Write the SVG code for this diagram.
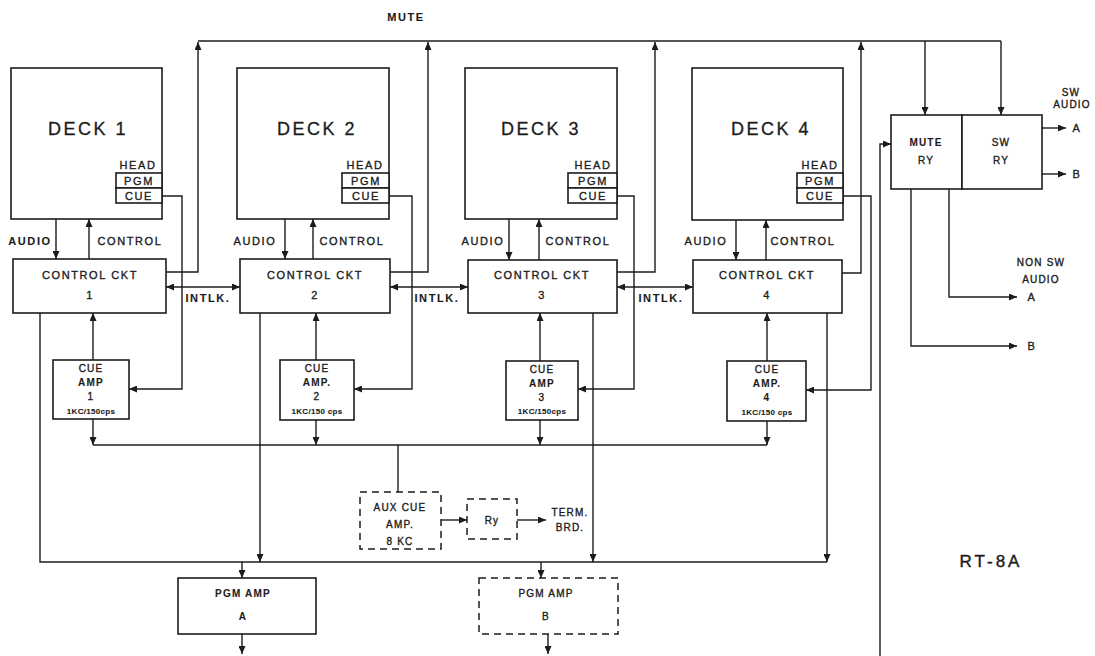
<svg xmlns="http://www.w3.org/2000/svg" width="1095" height="656" viewBox="0 0 1095 656">
<defs>
<style>
.ln{fill:none;stroke:#1c1c1c;stroke-width:1.4}
.bx{fill:#fff;stroke:#1c1c1c;stroke-width:1.6}
.dbx{fill:#fff;stroke:#1c1c1c;stroke-width:1.5;stroke-dasharray:7 5}
.t{font-family:"Liberation Sans",Arial,sans-serif;fill:#1c1c1c;stroke:#1c1c1c;stroke-width:0.35;text-anchor:middle}
.big{font-size:18px;letter-spacing:2.5px;stroke-width:0.3}
.md{font-size:11px;letter-spacing:1.6px}
.sm{font-size:10px;letter-spacing:1.2px}
.xs{font-size:8px;font-weight:bold;letter-spacing:0.3px;stroke-width:0.1}
.b{font-weight:bold;stroke-width:0.1}
</style>
<marker id="ar" viewBox="0 0 8 7" refX="8" refY="3.5" markerWidth="8" markerHeight="7" markerUnits="userSpaceOnUse" orient="auto-start-reverse">
<path d="M0,0 L8,3.5 L0,7 z" fill="#1c1c1c"/>
</marker>
</defs>
<rect width="1095" height="656" fill="#fff"/>

<g id="connectors">
<path class="ln" d="M198,41 H1001"/>
<path class="ln" d="M925,41 V115" marker-end="url(#ar)"/>
<path class="ln" d="M1001,41 V115" marker-end="url(#ar)"/>
<path class="ln" d="M166,272 H198 V42" marker-end="url(#ar)"/>
<path class="ln" d="M390,272 H428 V42" marker-end="url(#ar)"/>
<path class="ln" d="M617,272 H655 V42" marker-end="url(#ar)"/>
<path class="ln" d="M842,273 H861 V42" marker-end="url(#ar)"/>
<path class="ln" d="M116,181 H56 V259" marker-end="url(#ar)"/>
<path class="ln" d="M342,181 H285 V259" marker-end="url(#ar)"/>
<path class="ln" d="M568,181 H509 V260" marker-end="url(#ar)"/>
<path class="ln" d="M797,181 H736 V260" marker-end="url(#ar)"/>
<path class="ln" d="M89,259 V219" marker-end="url(#ar)"/>
<path class="ln" d="M313,259 V219" marker-end="url(#ar)"/>
<path class="ln" d="M539,260 V219" marker-end="url(#ar)"/>
<path class="ln" d="M766,260 V220" marker-end="url(#ar)"/>
<path class="ln" d="M166,287 H240" marker-start="url(#ar)" marker-end="url(#ar)"/>
<path class="ln" d="M390,287 H468" marker-start="url(#ar)" marker-end="url(#ar)"/>
<path class="ln" d="M617,287 H693" marker-start="url(#ar)" marker-end="url(#ar)"/>
<path class="ln" d="M162,196 H182 V389 H129" marker-end="url(#ar)"/>
<path class="ln" d="M389,196 H412 V389 H354" marker-end="url(#ar)"/>
<path class="ln" d="M617,196 H634 V389 H578" marker-end="url(#ar)"/>
<path class="ln" d="M843,196 H871 V390 H806" marker-end="url(#ar)"/>
<path class="ln" d="M93,360 V313" marker-end="url(#ar)"/>
<path class="ln" d="M316,360 V313" marker-end="url(#ar)"/>
<path class="ln" d="M540,361 V313" marker-end="url(#ar)"/>
<path class="ln" d="M767,361 V313" marker-end="url(#ar)"/>
<path class="ln" d="M93,419 V445" marker-end="url(#ar)"/>
<path class="ln" d="M316,420 V445" marker-end="url(#ar)"/>
<path class="ln" d="M540,420 V445" marker-end="url(#ar)"/>
<path class="ln" d="M767,421 V445" marker-end="url(#ar)"/>
<path class="ln" d="M93,445 H767"/>
<path class="ln" d="M398,445 V492"/>
<path class="ln" d="M441,520 H467" marker-end="url(#ar)"/>
<path class="ln" d="M517,520 H546" marker-end="url(#ar)"/>
<path class="ln" d="M40,313 V562 H827"/>
<path class="ln" d="M260,313 V562" marker-end="url(#ar)"/>
<path class="ln" d="M593,313 V562" marker-end="url(#ar)"/>
<path class="ln" d="M827,313 V562" marker-end="url(#ar)"/>
<path class="ln" d="M242,562 V578" marker-end="url(#ar)"/>
<path class="ln" d="M242,634 V654" marker-end="url(#ar)"/>
<path class="ln" d="M541,562 V578" marker-end="url(#ar)"/>
<path class="ln" d="M548,634 V654" marker-end="url(#ar)"/>
<path class="ln" d="M880,656 V144 H891" marker-end="url(#ar)"/>
<path class="ln" d="M1042,128 H1066" marker-end="url(#ar)"/>
<path class="ln" d="M1042,174 H1066" marker-end="url(#ar)"/>
<path class="ln" d="M949,189 V297 H1017" marker-end="url(#ar)"/>
<path class="ln" d="M911,189 V346 H1017" marker-end="url(#ar)"/>
</g>

<g id="deck1">
<rect class="bx" x="11" y="68" width="151" height="151"/>
<text class="t big" x="88" y="135">DECK 1</text>
<text class="t md" x="138" y="169">HEAD</text>
<rect class="bx" x="116" y="173" width="46" height="15"/>
<rect class="bx" x="116" y="188" width="46" height="15"/>
<text class="t md" x="139" y="185">PGM</text>
<text class="t md" x="139" y="200">CUE</text>
</g>
<g id="deck2">
<rect class="bx" x="237" y="68" width="152" height="151"/>
<text class="t big" x="317" y="135">DECK 2</text>
<text class="t md" x="365" y="169">HEAD</text>
<rect class="bx" x="342" y="173" width="47" height="15"/>
<rect class="bx" x="342" y="188" width="47" height="15"/>
<text class="t md" x="366" y="185">PGM</text>
<text class="t md" x="366" y="200">CUE</text>
</g>
<g id="deck3">
<rect class="bx" x="465" y="68" width="152" height="151"/>
<text class="t big" x="541" y="135">DECK 3</text>
<text class="t md" x="593" y="169">HEAD</text>
<rect class="bx" x="568" y="173" width="49" height="15"/>
<rect class="bx" x="568" y="188" width="49" height="15"/>
<text class="t md" x="593" y="185">PGM</text>
<text class="t md" x="593" y="200">CUE</text>
</g>
<g id="deck4">
<rect class="bx" x="692" y="68" width="151" height="152"/>
<text class="t big" x="771" y="135">DECK 4</text>
<text class="t md" x="820" y="169">HEAD</text>
<rect class="bx" x="797" y="173" width="46" height="15"/>
<rect class="bx" x="797" y="188" width="46" height="15"/>
<text class="t md" x="820" y="185">PGM</text>
<text class="t md" x="820" y="200">CUE</text>
</g>

<g id="labels">
<text class="t md b" x="406" y="21">MUTE</text>
<text class="t md b" x="30" y="245">AUDIO</text>
<text class="t md" x="130" y="245">CONTROL</text>
<text class="t md" x="255" y="245">AUDIO</text>
<text class="t md" x="352" y="245">CONTROL</text>
<text class="t md" x="483" y="245">AUDIO</text>
<text class="t md" x="578" y="245">CONTROL</text>
<text class="t md" x="706" y="245">AUDIO</text>
<text class="t md" x="803" y="245">CONTROL</text>
<text class="t md b" x="208" y="302">INTLK.</text>
<text class="t md b" x="437" y="302">INTLK.</text>
<text class="t md b" x="661" y="302">INTLK.</text>
<text class="t sm" x="570" y="516">TERM.</text>
<text class="t sm" x="570" y="531">BRD.</text>
<text class="t sm" x="1071" y="96">SW</text>
<text class="t sm" x="1072" y="108">AUDIO</text>
<text class="t md" x="1077" y="132">A</text>
<text class="t md" x="1077" y="178">B</text>
<text class="t sm" x="1041" y="266">NON SW</text>
<text class="t sm" x="1041" y="283">AUDIO</text>
<text class="t md" x="1032" y="301">A</text>
<text class="t md" x="1032" y="350">B</text>
<text class="t" x="991" y="567" style="font-size:17px;letter-spacing:3px;stroke-width:0.4">RT-8A</text>
</g>

<g id="ckt1">
<rect class="bx" x="13" y="259" width="153" height="54"/>
<text class="t md" x="90" y="279">CONTROL CKT</text>
<text class="t md" x="90" y="299">1</text>
</g>
<g id="ckt2">
<rect class="bx" x="240" y="259" width="150" height="54"/>
<text class="t md" x="315" y="279">CONTROL CKT</text>
<text class="t md" x="315" y="299">2</text>
</g>
<g id="ckt3">
<rect class="bx" x="468" y="260" width="149" height="53"/>
<text class="t md" x="542" y="279">CONTROL CKT</text>
<text class="t md" x="542" y="299">3</text>
</g>
<g id="ckt4">
<rect class="bx" x="693" y="260" width="149" height="53"/>
<text class="t md" x="767" y="279">CONTROL CKT</text>
<text class="t md" x="767" y="299">4</text>
</g>

<g id="cueamp1">
<rect class="bx" x="53" y="360" width="76" height="59"/>
<text class="t sm" x="91" y="372">CUE</text>
<text class="t sm b" x="91" y="386">AMP</text>
<text class="t sm" x="91" y="400">1</text>
<text class="t xs" x="91" y="414">1KC/150cps</text>
</g>
<g id="cueamp2">
<rect class="bx" x="280" y="360" width="74" height="60"/>
<text class="t sm" x="317" y="372">CUE</text>
<text class="t sm b" x="317" y="386">AMP.</text>
<text class="t sm" x="317" y="400">2</text>
<text class="t xs" x="317" y="414">1KC/150 cps</text>
</g>
<g id="cueamp3">
<rect class="bx" x="506" y="361" width="72" height="59"/>
<text class="t sm" x="542" y="373">CUE</text>
<text class="t sm b" x="542" y="387">AMP</text>
<text class="t sm" x="542" y="401">3</text>
<text class="t xs" x="542" y="414">1KC/150cps</text>
</g>
<g id="cueamp4">
<rect class="bx" x="727" y="361" width="79" height="60"/>
<text class="t sm" x="767" y="373">CUE</text>
<text class="t sm b" x="767" y="387">AMP.</text>
<text class="t sm b" x="767" y="401">4</text>
<text class="t xs" x="767" y="415">1KC/150 cps</text>
</g>

<g id="auxcueamp">
<rect class="dbx" x="360" y="492" width="81" height="57"/>
<text class="t sm" x="400" y="511">AUX CUE</text>
<text class="t sm" x="400" y="528">AMP.</text>
<text class="t sm" x="400" y="545">8 KC</text>
</g>
<g id="ry">
<rect class="dbx" x="467" y="499" width="50" height="40"/>
<text class="t sm" x="492" y="524">Ry</text>
</g>

<g id="pgmampA">
<rect class="bx" x="178" y="578" width="138" height="56"/>
<text class="t sm b" x="243" y="597">PGM  AMP</text>
<text class="t sm b" x="243" y="620">A</text>
</g>
<g id="pgmampB">
<rect class="dbx" x="479" y="578" width="139" height="56"/>
<text class="t sm" x="546" y="597">PGM  AMP</text>
<text class="t sm" x="546" y="620">B</text>
</g>

<g id="muteRy">
<rect class="bx" x="891" y="115" width="71" height="74"/>
<text class="t sm b" x="926" y="146">MUTE</text>
<text class="t sm" x="926" y="164">RY</text>
</g>
<g id="swRy">
<rect class="bx" x="962" y="115" width="80" height="74"/>
<text class="t sm" x="1001" y="146">SW</text>
<text class="t sm" x="1001" y="164">RY</text>
</g>
</svg>
